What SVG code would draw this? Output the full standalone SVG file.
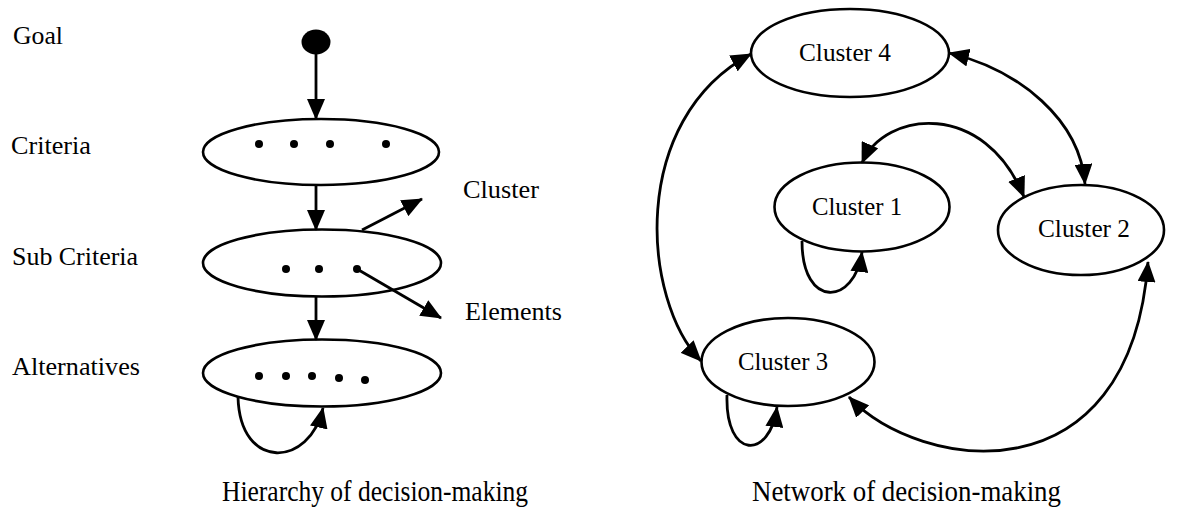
<svg xmlns="http://www.w3.org/2000/svg" width="1203" height="523" viewBox="0 0 1203 523">
<defs>
<style>
.node{fill:#fff;stroke:#000;stroke-width:2.6}
.dot{fill:#000}
.lbl{font-family:"Liberation Serif","Times New Roman",serif;font-size:26px;fill:#000}
.ttl{font-family:"Liberation Serif","Times New Roman",serif;font-size:30px;fill:#000}
.c{fill:none;stroke:#000;stroke-width:2.8}
</style>
<marker id="ah" markerUnits="userSpaceOnUse" markerWidth="21" markerHeight="18" viewBox="0 0 21 18" refX="20" refY="9" orient="auto-start-reverse">
<path d="M0,0 L21,9 L0,18 z" fill="#000"/>
</marker>
</defs>
<rect width="1203" height="523" fill="#fff"/>

<g id="labels-left">
<text class="lbl" x="13" y="44" textLength="50" lengthAdjust="spacingAndGlyphs">Goal</text>
<text class="lbl" x="11" y="154" textLength="80" lengthAdjust="spacingAndGlyphs">Criteria</text>
<text class="lbl" x="12" y="265" textLength="126" lengthAdjust="spacingAndGlyphs">Sub Criteria</text>
<text class="lbl" x="12" y="375" textLength="128" lengthAdjust="spacingAndGlyphs">Alternatives</text>
<text class="lbl" x="463" y="198" textLength="76" lengthAdjust="spacingAndGlyphs">Cluster</text>
<text class="lbl" x="465" y="320" textLength="97" lengthAdjust="spacingAndGlyphs">Elements</text>
</g>

<g id="goal"><ellipse cx="316" cy="42" rx="14.5" ry="12.5" fill="#000"/></g>

<g id="criteria">
<ellipse class="node" cx="321" cy="152" rx="118" ry="33"/>
<circle class="dot" cx="259" cy="144" r="4"/>
<circle class="dot" cx="294" cy="144" r="4"/>
<circle class="dot" cx="330" cy="144" r="4"/>
<circle class="dot" cx="386" cy="144" r="4"/>
</g>

<g id="sub-criteria">
<ellipse class="node" cx="322" cy="263" rx="119" ry="33.5"/>
<circle class="dot" cx="286" cy="269" r="4"/>
<circle class="dot" cx="319" cy="269" r="4"/>
<circle class="dot" cx="357" cy="269" r="4"/>
</g>

<g id="alternatives">
<ellipse class="node" cx="322" cy="373" rx="119" ry="33.5"/>
<circle class="dot" cx="259" cy="376" r="4"/>
<circle class="dot" cx="286" cy="376" r="4"/>
<circle class="dot" cx="312" cy="376" r="4"/>
<circle class="dot" cx="339" cy="378" r="4"/>
<circle class="dot" cx="365" cy="380" r="4"/>
</g>

<g id="cluster4">
<ellipse class="node" cx="850" cy="53" rx="99" ry="44"/>
<text class="lbl" x="799" y="61" textLength="92" lengthAdjust="spacingAndGlyphs">Cluster 4</text>
</g>
<g id="cluster1">
<ellipse class="node" cx="862" cy="207" rx="87.5" ry="44.5"/>
<text class="lbl" x="812" y="215" textLength="90" lengthAdjust="spacingAndGlyphs">Cluster 1</text>
</g>
<g id="cluster2">
<ellipse class="node" cx="1081" cy="230" rx="83" ry="45"/>
<text class="lbl" x="1038" y="237" textLength="92" lengthAdjust="spacingAndGlyphs">Cluster 2</text>
</g>
<g id="cluster3">
<ellipse class="node" cx="788" cy="362" rx="86.5" ry="44"/>
<text class="lbl" x="738" y="370" textLength="90" lengthAdjust="spacingAndGlyphs">Cluster 3</text>
</g>

<g id="connectors">
<line class="c" x1="316" y1="54" x2="316" y2="119" marker-end="url(#ah)"/>
<line class="c" x1="316" y1="185" x2="316" y2="230" marker-end="url(#ah)"/>
<line class="c" x1="316" y1="296" x2="316" y2="340" marker-end="url(#ah)"/>
<line class="c" x1="362" y1="230" x2="422" y2="199" marker-end="url(#ah)"/>
<line class="c" x1="357" y1="269" x2="441" y2="318" marker-end="url(#ah)"/>
<path class="c" d="M238,397 C240,472 310,467 323,408" marker-end="url(#ah)"/>

<path class="c" d="M701,361 C642,300 628,120 751,54" marker-start="url(#ah)" marker-end="url(#ah)"/>
<path class="c" d="M949,53 C1020,70 1080,120 1085,184" marker-start="url(#ah)" marker-end="url(#ah)"/>
<path class="c" d="M862,163 C885,110 985,100 1024,197" marker-start="url(#ah)" marker-end="url(#ah)"/>
<path class="c" d="M802,241 C802,310 855,305 862,252" marker-end="url(#ah)"/>
<path class="c" d="M727,395 C725,460 770,460 777,407" marker-end="url(#ah)"/>
<path class="c" d="M849,397 C920,472 1130,502 1148,262" marker-start="url(#ah)" marker-end="url(#ah)"/>
</g>

<g id="titles">
<text class="ttl" x="222" y="501" textLength="306" lengthAdjust="spacingAndGlyphs">Hierarchy of decision-making</text>
<text class="ttl" x="752" y="501" textLength="309" lengthAdjust="spacingAndGlyphs">Network of decision-making</text>
</g>
</svg>
